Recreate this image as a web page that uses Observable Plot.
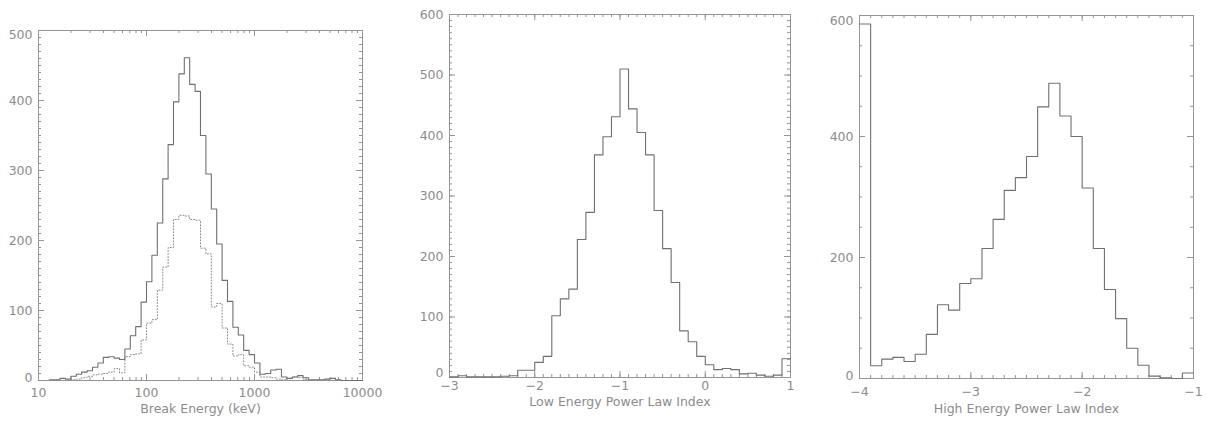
<!DOCTYPE html>
<html><head><meta charset="utf-8">
<script src="https://cdn.jsdelivr.net/npm/d3@7"></script>
<script src="https://cdn.jsdelivr.net/npm/@observablehq/plot@0.6"></script>
<style>
body{margin:0;background:#fff;}
#wrap{position:relative;width:1207px;height:423px;overflow:hidden;background:#fff;}
.panel{position:absolute;top:0;}
.panel svg{display:block;}
g[aria-label="ylab2"] text{letter-spacing:4px;}
g[aria-label="title1"] text{letter-spacing:0.5px;}
g[aria-label="title2"] text{letter-spacing:1.8px;}
g[aria-label="title3"] text{letter-spacing:1.55px;}
</style></head><body><div id="wrap"></div>
<script>
// ---------- Panel 1: Break Energy (keV), log-spaced bins ----------
const breakEdges = [12.59, 14.13, 15.85, 17.78, 19.95, 22.39, 25.12, 28.18, 31.62, 35.48,
  39.81, 44.67, 50.12, 56.23, 63.10, 70.79, 79.43, 89.13, 100, 112.2,
  125.9, 141.3, 158.5, 177.8, 199.5, 223.9, 251.2, 281.8, 316.2, 354.8,
  398.1, 446.7, 501.2, 562.3, 631.0, 707.9, 794.3, 891.3, 1000, 1122,
  1259, 1413, 1585, 1778, 1995, 2239, 2512, 2818, 3162, 3548,
  3981, 4467, 5012, 5623, 6310, 7079, 7943, 8913, 10000];
const breakAll = [1, 1, 3, 2, 6, 9, 12, 14, 19, 25, 33, 34, 32, 30, 45, 64, 77, 112,
  141, 179, 225, 288, 337, 398, 438, 461, 423, 413, 350, 295, 245, 195, 143, 113, 76, 65, 43, 37,
  25, 9, 10, 15, 16, 5, 3, 5, 7, 4, 1, 1, 1, 2, 3, 1, 0, 0, 0, 0];
const breakSub = [null, null, null, null, 1, 2, 4, 6, 8, 9, 10, 12, 17, 11, 34, 37, 38, 58,
  82, 87, 129, 162, 190, 230, 236, 235, 230, 229, 189, 181, 105, 110, 75, 52, 35, 37, 21, 19,
  12, 5, 5, 4, 2, 1, 3, 5, 4, 1, 0, null, null, null, null, null, null, null, null, null];
const breakXMajor = [10, 100, 1000, 10000];
const breakXMinor = [20, 30, 40, 50, 60, 70, 80, 90, 200, 300, 400, 500, 600, 700, 800, 900,
  2000, 3000, 4000, 5000, 6000, 7000, 8000, 9000];
const breakYMajor = [0, 100, 200, 300, 400, 500];

// ---------- Panel 2: Low Energy Power Law Index ----------
const lowEdges = [-3.0, -2.9, -2.8, -2.7, -2.6, -2.5, -2.4, -2.3, -2.2, -2.1,
  -2.0, -1.9, -1.8, -1.7, -1.6, -1.5, -1.4, -1.3, -1.2, -1.1,
  -1.0, -0.9, -0.8, -0.7, -0.6, -0.5, -0.4, -0.3, -0.2, -0.1,
  0.0, 0.1, 0.2, 0.3, 0.4, 0.5, 0.6, 0.7, 0.8, 0.9, 1.0];
const lowCounts = [1, 3, 1, 1, 1, 1, 2, 3, 12, 12,
  25, 35, 102, 130, 146, 228, 273, 368, 398, 431,
  510, 444, 405, 368, 276, 213, 157, 77, 59, 35,
  21, 13, 15, 13, 6, 7, 4, 2, 4, 31];
const lowXMajor = [-3, -2, -1, 0, 1];
const lowYMajor = [0, 100, 200, 300, 400, 500, 600];

// ---------- Panel 3: High Energy Power Law Index ----------
const highEdges = [-4.0, -3.9, -3.8, -3.7, -3.6, -3.5, -3.4, -3.3, -3.2, -3.1,
  -3.0, -2.9, -2.8, -2.7, -2.6, -2.5, -2.4, -2.3, -2.2, -2.1,
  -2.0, -1.9, -1.8, -1.7, -1.6, -1.5, -1.4, -1.3, -1.2, -1.1, -1.0];
const highCounts = [586, 21, 32, 35, 28, 40, 73, 122, 113, 157,
  165, 215, 263, 311, 332, 367, 449, 488, 434, 400,
  315, 215, 147, 99, 50, 22, 4, 1, 0, 9];
const highXMajor = [-4, -3, -2, -1];
const highYMajor = [0, 200, 400, 600];

const FRAME = "#959595", LINE = "#707070", TXT = "#8c8c8c", FONT = "DejaVu Sans";
const fmt = d => d < 0 ? "\u2212" + Math.abs(d) : String(d);

function steps(edges, counts) {
  const pts = [];
  counts.forEach((v, i) => { if (v == null) return; pts.push({x: edges[i], y: v}, {x: edges[i + 1], y: v}); });
  return pts;
}
function range(a, b, s) { // tick positions only
  return d3.range(Math.round(a / s), Math.round(b / s) + 1).map(k => +(k * s).toFixed(6));
}
function tickMarks(xMaj, xMin, yMaj, yMin, FW, FH) {
  const c = {stroke: FRAME, strokeWidth: 1};
  const MJ = 6, MN = 3;
  return [
    Plot.tickX(xMaj, {x: d => d, insetTop: FH - MJ, ...c}),
    Plot.tickX(xMaj, {x: d => d, insetBottom: FH - MJ, ...c}),
    Plot.tickX(xMin, {x: d => d, insetTop: FH - MN, ...c}),
    Plot.tickX(xMin, {x: d => d, insetBottom: FH - MN, ...c}),
    Plot.tickY(yMaj, {y: d => d, insetRight: FW - MJ, ...c}),
    Plot.tickY(yMaj, {y: d => d, insetLeft: FW - MJ, ...c}),
    Plot.tickY(yMin, {y: d => d, insetRight: FW - MN, ...c}),
    Plot.tickY(yMin, {y: d => d, insetLeft: FW - MN, ...c})
  ];
}
function panel(o) {
  const FW = o.width - o.ml - o.mr, FH = 423 - o.mt - o.mb;
  const txt = {fill: TXT, fontFamily: FONT, fontSize: 12.5};
  const yTop = o.yMaj[o.yMaj.length - 1], yBot = o.yMaj[0];
  const marks = [
    ...tickMarks(o.xMaj, o.xMin, o.yMaj, o.yMin, FW, FH),
    Plot.frame({stroke: FRAME, strokeWidth: 1}),
    ...o.lines,
    Plot.text(o.xMaj, {x: d => d, text: o.xfmt || fmt, frameAnchor: "bottom", dy: o.xdy, textAnchor: "middle", ariaLabel: "xlab", ...txt}),
    Plot.text(o.yMaj.filter(d => d !== yTop && d !== yBot), {y: d => d, text: fmt, frameAnchor: "left", dx: -6, textAnchor: "end", ariaLabel: o.ylabName, ...txt}),
    Plot.text([yTop], {y: d => d, text: fmt, frameAnchor: "left", dx: -6, dy: o.topdy, textAnchor: "end", ariaLabel: o.ylabName, ...txt}),
    Plot.text([yBot], {y: d => d, text: fmt, frameAnchor: "left", dx: -6, dy: o.botdy, textAnchor: "end", ariaLabel: o.ylabName, ...txt}),
    Plot.text([o.title], {text: d => d, frameAnchor: "bottom", dy: o.tdy, textAnchor: "middle", ariaLabel: o.titleName, ...txt})
  ];
  const chart = Plot.plot({
    width: o.width, height: 423,
    marginLeft: o.ml, marginRight: o.mr, marginTop: o.mt, marginBottom: o.mb,
    style: {background: "white", fontFamily: FONT, overflow: "visible"},
    x: {type: o.xtype || "linear", domain: o.xdom, axis: null},
    y: {domain: o.ydom, axis: null},
    marks
  });
  const div = document.createElement("div");
  div.className = "panel";
  div.style.left = o.left + "px";
  div.appendChild(chart);
  document.getElementById("wrap").appendChild(div);
}

panel({
  left: 0, width: 400, ml: 38, mr: 38, mt: 30, mb: 43,
  xtype: "log", xdom: [10, 10000], ydom: [0, 500],
  xMaj: breakXMajor, xMin: breakXMinor, yMaj: breakYMajor, yMin: range(0, 500, 10),
  xfmt: d => String(d), xdy: 16, tdy: 32, topdy: 4, botdy: -3, ylabName: "ylab1", titleName: "title1",
  title: "Break Energy (keV)",
  lines: [
    Plot.line(steps(breakEdges, breakSub), {x: "x", y: "y", stroke: "#8a8a8a", strokeWidth: 1, strokeDasharray: "1,2"}),
    Plot.line(steps(breakEdges, breakAll), {x: "x", y: "y", stroke: LINE, strokeWidth: 1.1})
  ]
});
panel({
  left: 400, width: 400, ml: 49, mr: 10, mt: 14, mb: 46,
  xdom: [-3, 1], ydom: [0, 600],
  xMaj: lowXMajor, xMin: range(-3, 1, 0.1), yMaj: lowYMajor, yMin: range(0, 600, 10),
  xdy: 12, tdy: 28, topdy: 0, botdy: -5, ylabName: "ylab2", titleName: "title2",
  title: "Low Energy Power Law Index",
  lines: [Plot.line(steps(lowEdges, lowCounts), {x: "x", y: "y", stroke: LINE, strokeWidth: 1.1})]
});
panel({
  left: 800, width: 407, ml: 59, mr: 14, mt: 15, mb: 45,
  xdom: [-4, -1], ydom: [0, 600],
  xMaj: highXMajor, xMin: range(-4, -1, 0.1), yMaj: highYMajor, yMin: range(0, 600, 50),
  xdy: 17, tdy: 34, topdy: 5, botdy: -3, ylabName: "ylab3", titleName: "title3",
  title: "High Energy Power Law Index",
  lines: [Plot.line(steps(highEdges, highCounts), {x: "x", y: "y", stroke: LINE, strokeWidth: 1.1})]
});
</script></body></html>
